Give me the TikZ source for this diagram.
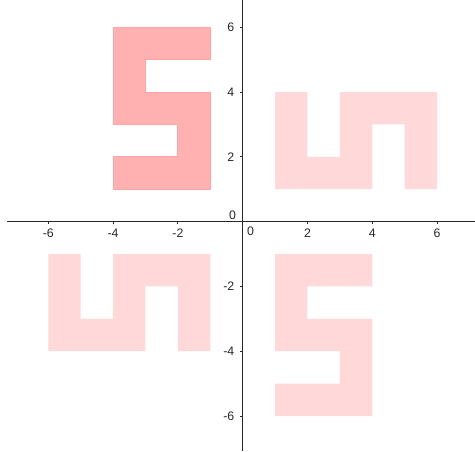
\documentclass[tikz,border=0pt]{standalone}
\usepackage{fontspec}
\setmainfont{Liberation Sans}

\definecolor{fivefill}{RGB}{255,176,176}
\definecolor{fiveline}{RGB}{255,165,165}
\definecolor{imagefill}{RGB}{255,217,217}
\definecolor{axiscol}{RGB}{40,40,40}

\begin{document}
\begin{tikzpicture}[x=0.6cm, y=0.6cm, every node/.style={font=\fontsize{6.5}{8}\selectfont, text=axiscol, inner sep=1pt}]
	\useasboundingbox (-7.49,-7.09) rectangle (7.17,6.84);
	% images of the five
	\fill[imagefill] (1,4) -- (2,4) -- (2,2) -- (3,2) -- (3,4) -- (6,4) -- (6,1) -- (5,1) -- (5,3) -- (4,3) -- (4,1) -- (1,1) -- cycle;
	\fill[imagefill] (-6,-1) -- (-5,-1) -- (-5,-3) -- (-4,-3) -- (-4,-1) -- (-1,-1) -- (-1,-4) -- (-2,-4) -- (-2,-2) -- (-3,-2) -- (-3,-4) -- (-6,-4) -- cycle;
	\fill[imagefill] (1,-1) -- (4,-1) -- (4,-2) -- (2,-2) -- (2,-3) -- (4,-3) -- (4,-6) -- (1,-6) -- (1,-5) -- (3,-5) -- (3,-4) -- (1,-4) -- cycle;
	% the five itself
	\filldraw[fill=fivefill, draw=fiveline, line width=0.4pt] (-4,6) -- (-1,6) -- (-1,5) -- (-3,5) -- (-3,4) -- (-1,4) -- (-1,1) -- (-4,1) -- (-4,2) -- (-2,2) -- (-2,3) -- (-4,3) -- cycle;
	% axes
	\draw[axiscol, line width=0.5pt] (-7.26,0) -- (7.17,0);
	\draw[axiscol, line width=0.5pt] (0,6.84) -- (0,-7.09);
	\foreach \t in {-6,-4,-2,2,4,6} {
		\draw[axiscol, line width=0.4pt] (\t,0) -- (\t,-0.08);
		\node[anchor=north] at (\t,-0.15) {\t};
		\draw[axiscol, line width=0.4pt] (0,\t) -- (-0.08,\t);
		\node[anchor=east] at (-0.19,\t) {\t};
	}
	\node at (-0.31,0.2) {0};
	\node at (0.24,-0.29) {0};
\end{tikzpicture}
\end{document}
